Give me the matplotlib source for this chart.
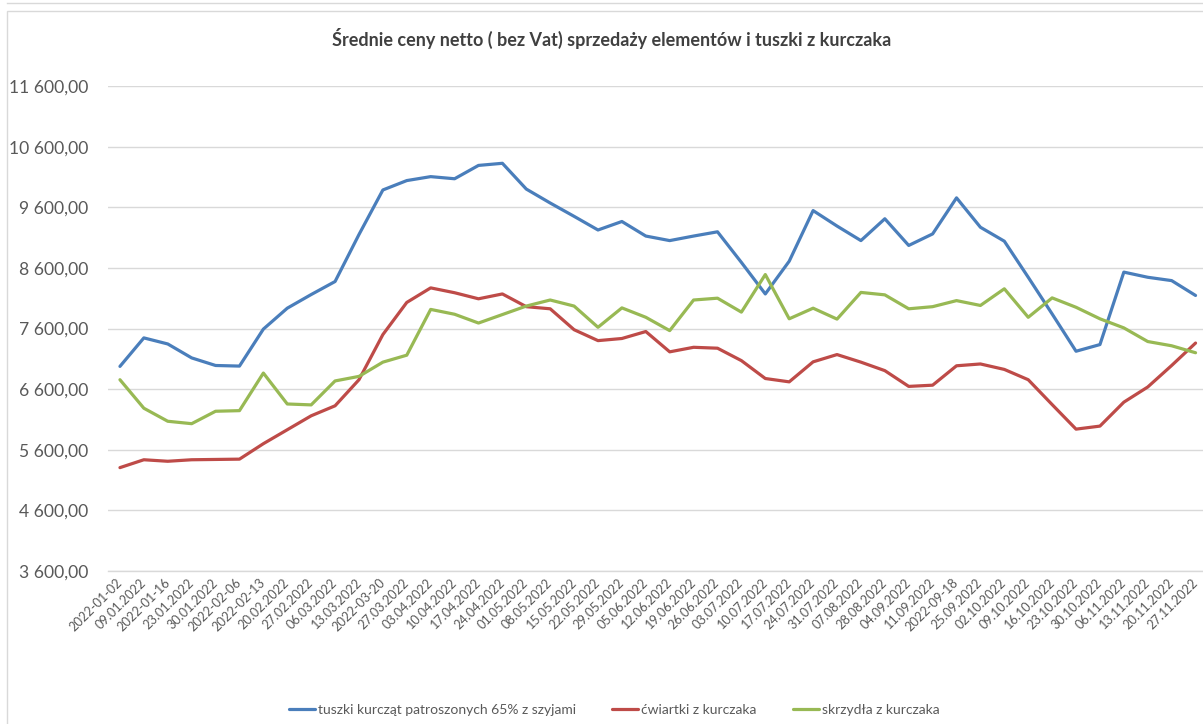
import matplotlib.pyplot as plt
from matplotlib.patches import Rectangle
from matplotlib.lines import Line2D
from matplotlib.ticker import FuncFormatter, FixedLocator

plt.rcParams["font.family"] = ["Lato", "DejaVu Sans"]

# =====================================================
# DATA
# =====================================================

dates = [
    "2022-01-02", "09.01.2022", "2022-01-16", "23.01.2022", "30.01.2022",
    "2022-02-06", "2022-02-13", "20.02.2022", "27.02.2022", "06.03.2022",
    "13.03.2022", "2022-03-20", "27.03.2022", "03.04.2022", "10.04.2022",
    "17.04.2022", "24.04.2022", "01.05.2022", "08.05.2022", "15.05.2022",
    "22.05.2022", "29.05.2022", "05.06.2022", "12.06.2022", "19.06.2022",
    "26.06.2022", "03.07.2022", "10.07.2022", "17.07.2022", "24.07.2022",
    "31.07.2022", "07.08.2022", "28.08.2022", "04.09.2022", "11.09.2022",
    "2022-09-18", "25.09.2022", "02.10.2022", "09.10.2022", "16.10.2022",
    "23.10.2022", "30.10.2022", "06.11.2022", "13.11.2022", "20.11.2022",
    "27.11.2022"
]

tuszki = [
    6975, 7445, 7345, 7115, 6990, 6980, 7590, 7935, 8160, 8375,
    9150, 9885, 10040, 10105, 10070, 10290, 10325, 9900, 9670, 9450,
    9225, 9365, 9125, 9050, 9125, 9195, 8690, 8170, 8710, 9545,
    9290, 9050, 9410, 8970, 9160, 9755, 9270, 9040, 8445, 7840,
    7225, 7335, 8530, 8445, 8390, 8145
]

cwiartki = [
    5305, 5435, 5410, 5435, 5440, 5445, 5700, 5930, 6160, 6325,
    6755, 7500, 8030, 8270, 8190, 8090, 8170, 7960, 7925, 7580,
    7400, 7435, 7550, 7215, 7290, 7275, 7070, 6775, 6720, 7050,
    7170, 7045, 6905, 6645, 6665, 6985, 7015, 6925, 6755, 6345,
    5940, 5990, 6385, 6635, 6990, 7360
]

skrzydla = [
    6755, 6285, 6070, 6030, 6235, 6245, 6865, 6355, 6340, 6735,
    6810, 7045, 7160, 7915, 7835, 7690, 7830, 7970, 8070, 7970,
    7620, 7940, 7785, 7565, 8070, 8100, 7870, 8490, 7760, 7935,
    7755, 8195, 8155, 7925, 7960, 8060, 7980, 8255, 7785, 8105,
    7950, 7760, 7610, 7385, 7315, 7200
]

y_ticks = [3600, 4600, 5600, 6600, 7600, 8600, 9600, 10600, 11600]

series = [
    ("tuszki kurcząt patroszonych 65% z szyjami", tuszki, "#4A7EBB"),
    ("ćwiartki z kurczaka", cwiartki, "#BE4B48"),
    ("skrzydła z kurczaka", skrzydla, "#98B954")
]

# =====================================================
# FIGURE
# =====================================================

W, H = 1203, 724
fig = plt.figure(figsize=(W / 100, H / 100), dpi=100)

# chart frame (Excel style)
fig.patches.append(Rectangle(
    (7 / W, -0.1), 1.2, 1 - 11 / H + 0.1,
    transform=fig.transFigure, fill=False,
    edgecolor="#D9D9D9", linewidth=1
))
fig.lines.append(Line2D(
    [7 / W, 1.1], [1 - 2.5 / H, 1 - 2.5 / H],
    transform=fig.transFigure, color="#D9D9D9", linewidth=1
))

left = 108 / W
right = 1207.5 / W
bottom = 1 - 571 / H
top = 1 - 86 / H

ax = fig.add_axes([left, bottom, right - left, top - bottom])

x = list(range(len(dates)))

for name, values, color in series:
    ax.plot(
        x,
        values,
        color=color,
        linewidth=2.3,
        label=name,
        solid_joinstyle="round",
        solid_capstyle="round",
        clip_on=False,
        zorder=3
    )

ax.set_xlim(-0.5, len(dates) - 0.5)
ax.set_ylim(y_ticks[0], y_ticks[-1])
ax.yaxis.set_major_locator(FixedLocator(y_ticks))

ax.yaxis.set_major_formatter(FuncFormatter(
    lambda v, p: f"{v:,.2f}".replace(",", " ").replace(".", ",")
))

ax.grid(True, axis="y", color="#D9D9D9", linewidth=1)
ax.set_axisbelow(True)

for s in ["top", "right", "left"]:
    ax.spines[s].set_visible(False)
ax.spines["bottom"].set_color("#D9D9D9")
ax.spines["bottom"].set_linewidth(1)

ax.set_xticks(x)
ax.set_xticklabels(
    dates,
    rotation=45,
    ha="right",
    va="center",
    rotation_mode="anchor",
    fontsize=9.2,
    color="#595959"
)

ax.tick_params(axis="x", length=0, pad=7)
ax.tick_params(axis="y", length=0, pad=14, labelsize=12.6, labelcolor="#595959")

# =====================================
# Title
# =====================================

fig.text(
    612 / W,
    1 - 38 / H,
    "Średnie ceny netto ( bez Vat) sprzedaży elementów i tuszki z kurczaka",
    ha="center",
    va="center",
    fontsize=13,
    fontweight="bold",
    color="#404040"
)

# =====================================
# Legend
# =====================================

fig.legend(
    loc="center",
    bbox_to_anchor=(614 / W, 1 - 710 / H),
    ncol=3,
    frameon=False,
    fontsize=10,
    handlelength=1.9,
    handletextpad=0.2,
    columnspacing=2.6,
    labelcolor="#595959"
)

fig.savefig("out.png", dpi=100)
